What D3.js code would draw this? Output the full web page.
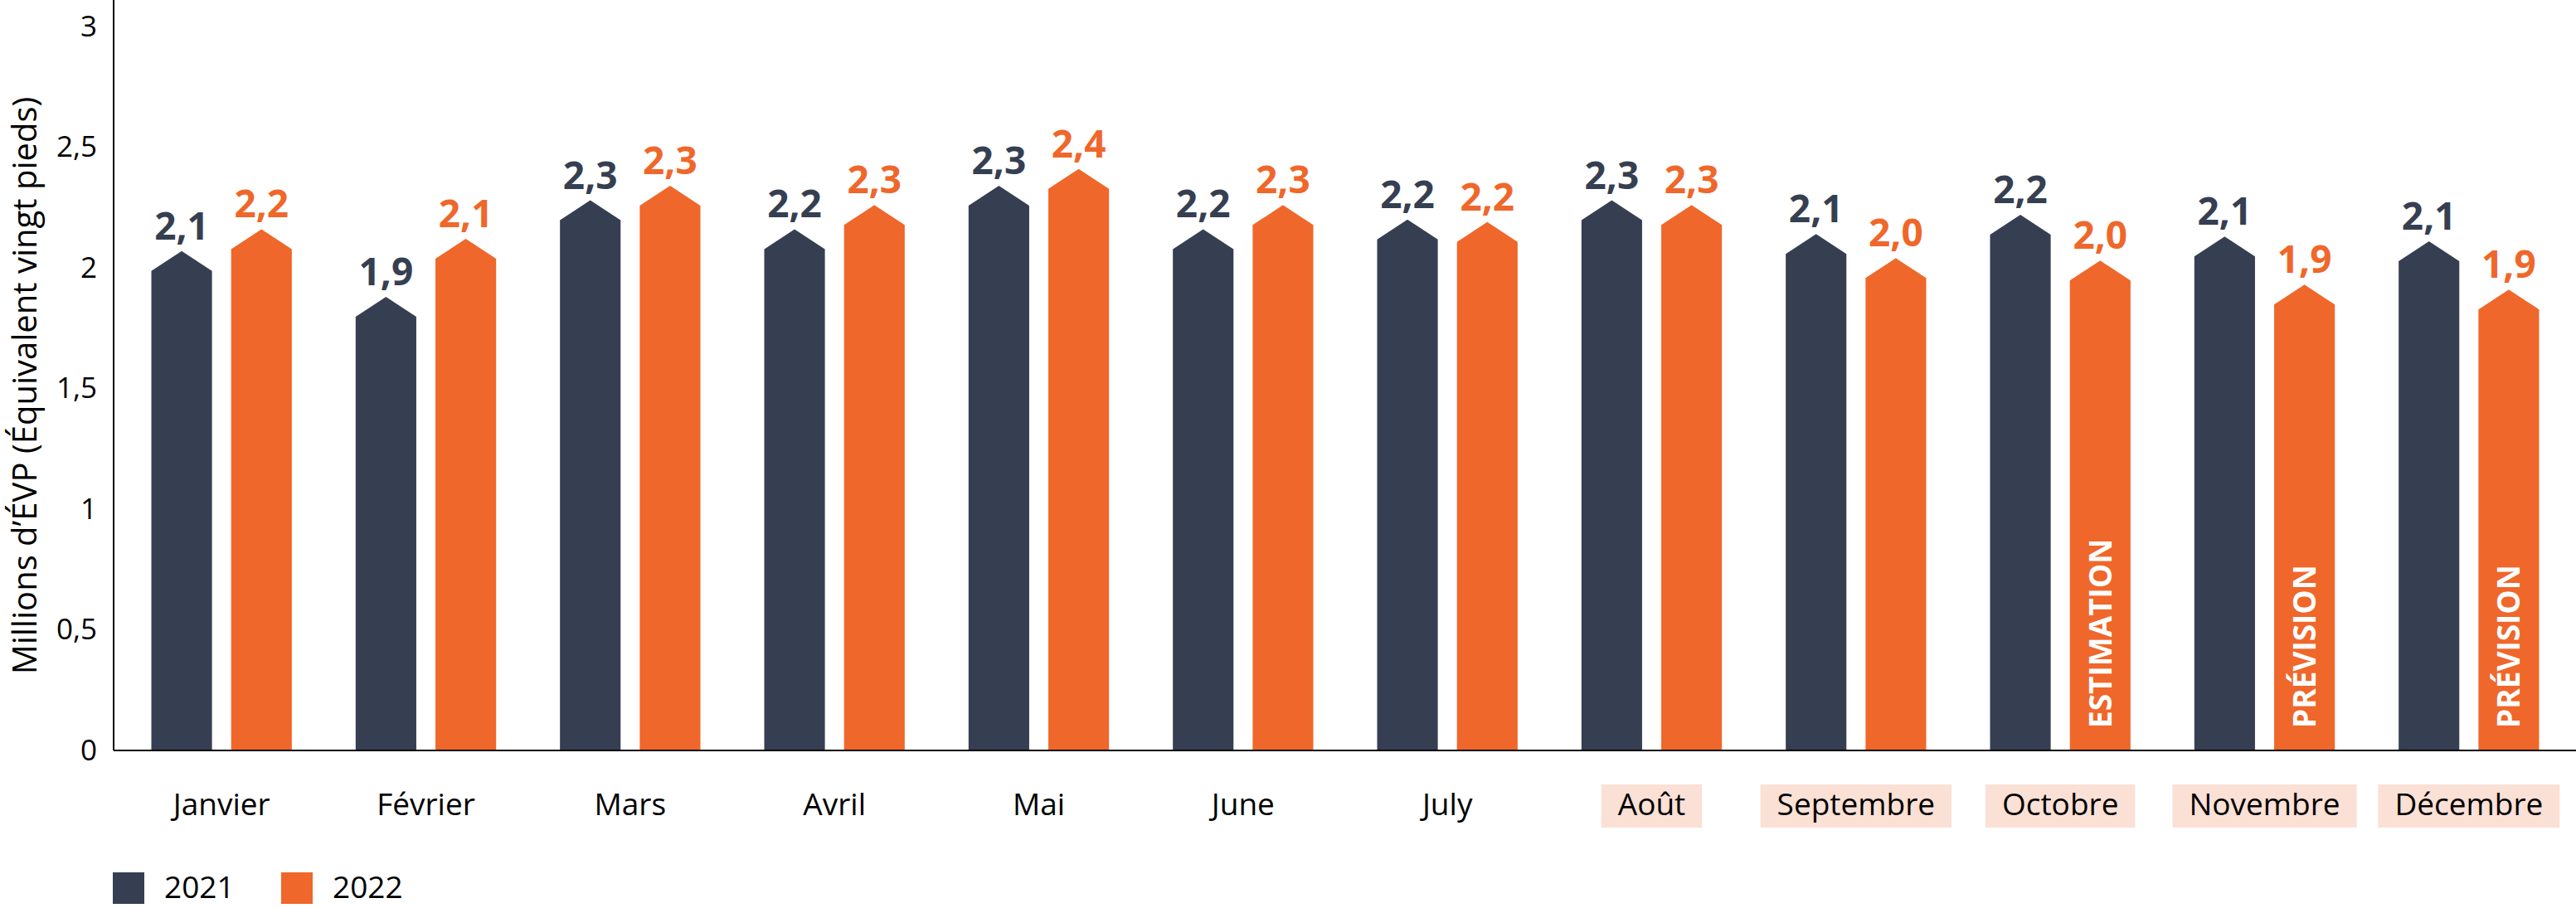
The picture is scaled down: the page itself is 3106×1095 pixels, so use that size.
<!DOCTYPE html>
<html>
<head>
<meta charset="utf-8">
<script src="https://cdn.jsdelivr.net/npm/d3@7"></script>
<style>
    body { margin: 0; background: #fff; }
    text { font-family: "Open Sans", sans-serif; }
</style>
</head>
<body>
<svg id="chart"></svg>
<script>
// months on the x axis
const months = ['Janvier', 'Février', 'Mars', 'Avril', 'Mai', 'June', 'July', 'Août', 'Septembre', 'Octobre', 'Novembre', 'Décembre'];
// months drawn with a pink label box
const shadedMonths = ['Août', 'Septembre', 'Octobre', 'Novembre', 'Décembre'];
const series = ['2021', '2022'];
// millions of TEU
const values2021 = [2.07, 1.88, 2.28, 2.16, 2.34, 2.16, 2.20, 2.28, 2.14, 2.22, 2.13, 2.11];
const values2022 = [2.16, 2.12, 2.34, 2.26, 2.41, 2.26, 2.19, 2.26, 2.04, 2.03, 1.93, 1.91];
// text written inside the 2022 bars
const notes2022 = ['', '', '', '', '', '', '', '', '', 'ESTIMATION', 'PRÉVISION', 'PRÉVISION'];
const yTicks = [0, 0.5, 1, 1.5, 2, 2.5, 3];
const yTitle = 'Millions d’ÉVP (Équivalent vingt pieds)';

const W = 3106, H = 1095;
const colors = { '2021': '#363f51', '2022': '#ef672a' };
const tipDrop = 24;

const fr = d3.formatLocale({ decimal: ',', thousands: ' ', grouping: [3], currency: ['', ' €'] });
const fmtValue = fr.format('.1f');
const fmtTick = fr.format('.1~f');

const data = months.map((m, i) => ({
    month: m,
    bars: [
        { key: '2021', value: values2021[i], note: '' },
        { key: '2022', value: values2022[i], note: notes2022[i] }
    ]
}));

const svg = d3.select('#chart')
    .attr('width', W)
    .attr('height', H);

const axisX = 137, baseY = 905;

const x0 = d3.scaleBand()
    .domain(months)
    .range([144, 3100])
    .padding(0);

const x1 = d3.scaleBand()
    .domain(series)
    .range([0, x0.bandwidth()])
    .paddingInner(0.24)
    .paddingOuter(0.4);

const y = d3.scaleLinear()
    .domain([0, 3])
    .range([baseY, 32]);

// y axis
const yAxis = d3.axisLeft(y)
    .tickValues(yTicks)
    .tickFormat(fmtTick)
    .tickSize(0)
    .tickPadding(20);

const yg = svg.append('g')
    .attr('transform', `translate(${axisX}, 0)`)
    .call(yAxis);
yg.select('.domain').remove();
yg.selectAll('text')
    .style('font-size', '35px')
    .attr('fill', '#000');

svg.append('text')
    .attr('transform', 'rotate(-90)')
    .attr('x', -465)
    .attr('y', 44)
    .attr('text-anchor', 'middle')
    .style('font-size', '40px')
    .attr('fill', '#000')
    .text(yTitle);

// bars as arrows
const groups = svg.append('g')
    .selectAll('g')
    .data(data)
    .join('g')
    .attr('transform', d => `translate(${x0(d.month)}, 0)`);

const arrow = d => {
    const xl = x1(d.key), xr = xl + x1.bandwidth(), xm = xl + x1.bandwidth() / 2;
    const yt = y(d.value);
    return `M${xl},${baseY}L${xl},${yt + tipDrop}L${xm},${yt}L${xr},${yt + tipDrop}L${xr},${baseY}Z`;
};

groups.selectAll('path')
    .data(d => d.bars)
    .join('path')
    .attr('d', arrow)
    .attr('fill', d => colors[d.key]);

groups.selectAll('text.value')
    .data(d => d.bars)
    .join('text')
    .attr('class', 'value')
    .attr('x', d => x1(d.key) + x1.bandwidth() / 2)
    .attr('y', d => y(d.value) - 14)
    .attr('text-anchor', 'middle')
    .style('font-size', '46px')
    .style('font-weight', 700)
    .attr('fill', d => colors[d.key])
    .text(d => fmtValue(d.value));

groups.selectAll('text.note')
    .data(d => d.bars.filter(b => b.note))
    .join('text')
    .attr('class', 'note')
    .attr('transform', d => `translate(${x1(d.key) + x1.bandwidth() / 2}, ${baseY - 27}) rotate(-90)`)
    .attr('dy', '0.36em')
    .style('font-size', '37px')
    .style('font-weight', 700)
    .attr('fill', '#fff')
    .text(d => d.note);

// axis lines
svg.append('line')
    .attr('x1', axisX).attr('x2', axisX)
    .attr('y1', 0).attr('y2', baseY)
    .attr('stroke', '#000')
    .attr('stroke-width', 2);

svg.append('line')
    .attr('x1', axisX).attr('x2', W)
    .attr('y1', baseY).attr('y2', baseY)
    .attr('stroke', '#000')
    .attr('stroke-width', 2);

// month labels
const labels = svg.append('g')
    .selectAll('g')
    .data(months)
    .join('g')
    .attr('transform', d => `translate(${x0(d) + x0.bandwidth() / 2}, 983)`);

labels.append('text')
    .attr('text-anchor', 'middle')
    .style('font-size', '37px')
    .attr('fill', '#000')
    .text(d => d);

labels.filter(d => shadedMonths.includes(d))
    .each(function () {
        const g = d3.select(this);
        const tw = g.select('text').node().getComputedTextLength();
        g.insert('rect', 'text')
            .attr('x', -tw / 2 - 20)
            .attr('y', -37)
            .attr('width', tw + 40)
            .attr('height', 52)
            .attr('fill', '#fbe0d5');
    });

// legend
const legend = svg.append('g')
    .selectAll('g')
    .data(series)
    .join('g')
    .attr('transform', (d, i) => `translate(${136 + i * 203}, 1052)`);

legend.append('rect')
    .attr('width', 38)
    .attr('height', 38)
    .attr('fill', d => colors[d]);

legend.append('text')
    .attr('x', 62)
    .attr('y', 31)
    .style('font-size', '37px')
    .attr('fill', '#000')
    .text(d => d);
</script>
</body>
</html>
